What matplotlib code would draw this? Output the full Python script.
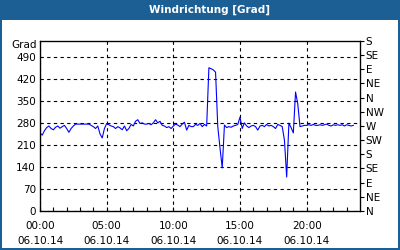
import matplotlib
matplotlib.use("Agg")
import matplotlib.pyplot as plt
from matplotlib.patches import Rectangle
import numpy as np

# wind direction, one value every 10 minutes, 06.10.14
hours = [h + m / 60 for h in range(24) for m in range(0, 60, 10)][:142]
direction = [
    248, 241, 255, 265, 270, 262,
    258, 266, 270, 263, 268, 272,
    262, 250, 262, 270, 276, 276,
    276, 276, 276, 276, 276, 272,
    268, 262, 270, 245, 232, 262,
    278, 274, 270, 268, 262, 268,
    264, 258, 270, 255, 262, 275,
    270, 285, 290, 278, 280, 276,
    276, 278, 274, 280, 290, 280,
    285, 272, 270, 265, 268, 262,
    270, 276, 273, 268, 276, 282,
    257, 272, 268, 268, 275, 272,
    278, 268, 275, 270, 455, 452,
    448, 441, 268, 200, 137, 273,
    265, 268, 266, 270, 272, 275,
    298, 262, 280, 270, 265, 270,
    272, 268, 257, 270, 272, 268,
    275, 270, 272, 268, 262, 275,
    272, 268, 225, 108, 279, 265,
    248, 378, 340, 268, 270, 272,
    272, 274, 272, 275, 272, 272,
    274, 272, 274, 276, 272, 270,
    274, 272, 274, 272, 274, 270,
    274, 272, 270, 272,
]

left_ticks = [0, 70, 140, 210, 280, 350, 420, 490]
right_ticks = list(range(0, 541, 45))
right_labels = ["N", "NE", "E", "SE", "S", "SW", "W", "NW", "N", "NE", "E", "SE", "S"]
x_major = [0, 5, 10, 15, 20]
x_labels = ["00:00\n06.10.14", "05:00\n06.10.14", "10:00\n06.10.14",
            "15:00\n06.10.14", "20:00\n06.10.14"]

frame_blue = "#1b5f95"

fig = plt.figure(figsize=(4, 2.5), dpi=100, facecolor=frame_blue)
fig.patches.append(Rectangle((2 / 400, 2 / 250), 396 / 400, 228 / 250,
                             transform=fig.transFigure, facecolor="white",
                             edgecolor="none", zorder=-5))
fig.text(0.524, 0.96, "Windrichtung [Grad]", color="white", fontsize=7.5,
         fontweight="bold", ha="center", va="center")

ax = fig.add_axes([0.1, 0.156, 0.8, 0.68])
ax.plot(hours, direction, color="#0000ff", linewidth=0.8)
ax.set_xlim(0, 24)
ax.set_ylim(0, 540)

ax.set_yticks(left_ticks)
ax.set_xticks(x_major)
ax.set_xticklabels(x_labels, fontsize=7.5, linespacing=1.6)
ax.set_xticks(range(0, 24), minor=True)
ax.tick_params(axis="x", which="both", direction="in", length=3, pad=7, width=0.8)
ax.tick_params(axis="y", direction="in", length=0, labelsize=7.5, pad=3)
ax.grid(True, color="black", linestyle=(0, (3, 3)), linewidth=0.8)

for s in ax.spines.values():
    s.set_linewidth(0.9)

ax2 = ax.twinx()
ax2.set_ylim(0, 540)
ax2.set_yticks(right_ticks)
ax2.set_yticklabels(right_labels)
ax2.tick_params(axis="y", direction="out", length=3, labelsize=7.5, pad=1, width=0.8)

fig.text(37 / 400, 1 - 45 / 250, "Grad", fontsize=7.5, ha="right", va="center")

fig.savefig("out.png", dpi=100, facecolor=fig.get_facecolor())
